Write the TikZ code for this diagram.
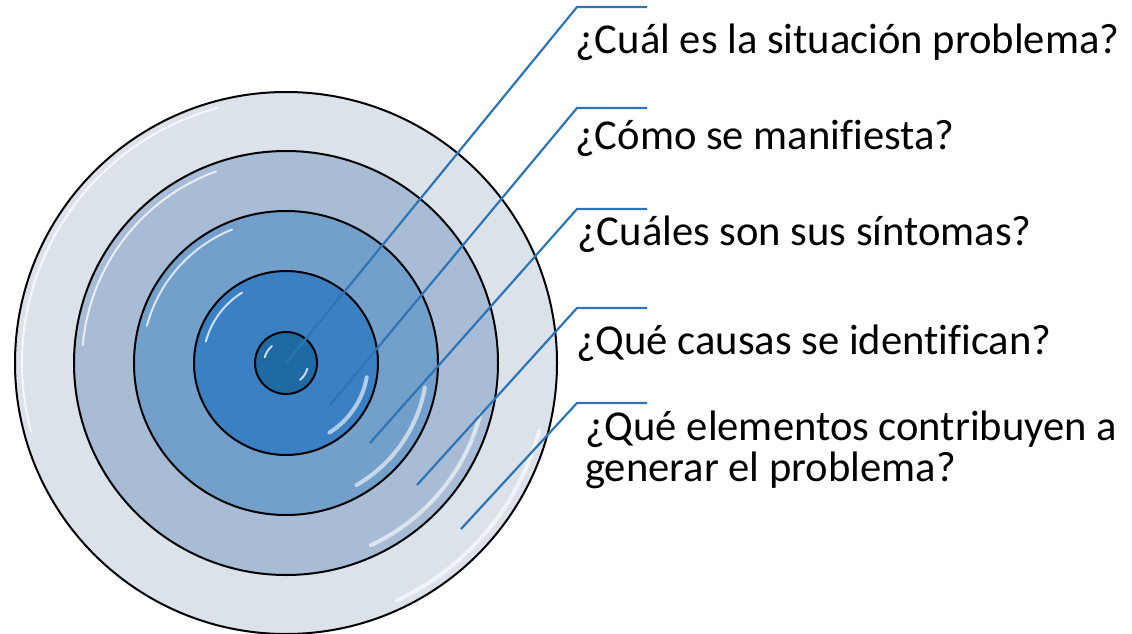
\documentclass[tikz,border=0pt]{standalone}
\usepackage{fontspec}
\setmainfont{Carlito}[Ligatures=NoCommon]
\usepackage{tikz}
\definecolor{ringa}{HTML}{DCE2EA}
\definecolor{ringb}{HTML}{A8BCD6}
\definecolor{ringc}{HTML}{739FCB}
\definecolor{ringd}{HTML}{3A80C2}
\definecolor{core}{HTML}{1F6AA3}
\definecolor{lead}{HTML}{2E75B6}
\tikzstyle{none}=[inner sep=0pt]
\tikzstyle{disc}=[circle,draw=black,line width=2,inner sep=0pt]
\tikzstyle{gloss}=[draw=white,line width=4,line cap=round,opacity=.6]
\tikzstyle{thingloss}=[draw=white,line width=2,line cap=round,opacity=.75]
\tikzstyle{leader}=[-,draw=lead,line width=2.2]
\tikzstyle{question}=[anchor=base west,inner sep=0pt,align=left,font=\fontsize{42.6}{41}\selectfont]
\pgfdeclarelayer{disclayer}
\pgfdeclarelayer{edgelayer}
\pgfsetlayers{disclayer,edgelayer,main}

\begin{document}
\begin{tikzpicture}[x=1pt,y=-1pt]
	\useasboundingbox (0,0) rectangle (1132,634);
	\begin{pgfonlayer}{disclayer}
		\node [style=disc, fill=ringa, minimum size=542pt] (d5) at (286, 363) {};
		\node [style=disc, fill=ringb, minimum size=424pt] (d4) at (286, 363) {};
		\node [style=disc, fill=ringc, minimum size=304pt] (d3) at (286, 363) {};
		\node [style=disc, fill=ringd, minimum size=184pt] (d2) at (286, 363) {};
		\node [style=disc, fill=core, minimum size=62pt] (d1) at (286, 363) {};

		% highlights (y axis points down, so angles are mirrored)
		\draw [style=thingloss] (d5.center) ++(-105:264) arc[start angle=-105, end angle=-195, radius=264];
		\draw [style=gloss] (d5.center) ++(15:262) arc[start angle=15, end angle=65, radius=262];
		\draw [style=thingloss] (d4.center) ++(-110:204) arc[start angle=-110, end angle=-175, radius=204];
		\draw [style=gloss] (d4.center) ++(15:201) arc[start angle=15, end angle=65, radius=201];
		\draw [style=thingloss] (d3.center) ++(-112:144) arc[start angle=-112, end angle=-165, radius=144];
		\draw [style=gloss] (d3.center) ++(10:141) arc[start angle=10, end angle=60, radius=141];
		\draw [style=thingloss] (d2.center) ++(-122:83) arc[start angle=-122, end angle=-165, radius=83];
		\draw [style=gloss] (d2.center) ++(10:82) arc[start angle=10, end angle=58, radius=82];
		\draw [style=thingloss] (d1.center) ++(-130:22) arc[start angle=-130, end angle=-165, radius=22];
		\draw [style=thingloss] (d1.center) ++(15:22) arc[start angle=15, end angle=50, radius=22];
	\end{pgfonlayer}

	\node [style=none] (p1) at (287, 362) {};
	\node [style=none] (k1) at (577, 7) {};
	\node [style=none] (e1) at (647, 7) {};
	\node [style=none] (p2) at (330, 405) {};
	\node [style=none] (k2) at (577, 108) {};
	\node [style=none] (e2) at (647, 108) {};
	\node [style=none] (p3) at (370, 443) {};
	\node [style=none] (k3) at (577, 209) {};
	\node [style=none] (e3) at (647, 209) {};
	\node [style=none] (p4) at (417, 485) {};
	\node [style=none] (k4) at (577, 308) {};
	\node [style=none] (e4) at (647, 308) {};
	\node [style=none] (p5) at (461, 529) {};
	\node [style=none] (k5) at (577, 403) {};
	\node [style=none] (e5) at (647, 403) {};

	\node [style=question] (q1) at (575, 53) {¿Cuál es la situación problema?};
	\node [style=question] (q2) at (575, 149) {¿Cómo se manifiesta?};
	\node [style=question] (q3) at (577, 245) {¿Cuáles son sus síntomas?};
	\node [style=question] (q4) at (576, 354) {¿Qué causas se identifican?};
	\node [style=question] (q5) at (585, 481) {¿Qué elementos contribuyen a\\generar el problema?};

	\begin{pgfonlayer}{edgelayer}
		\draw [style=leader] (p1.center) to (k1.center) to (e1.center);
		\draw [style=leader] (p2.center) to (k2.center) to (e2.center);
		\draw [style=leader] (p3.center) to (k3.center) to (e3.center);
		\draw [style=leader] (p4.center) to (k4.center) to (e4.center);
		\draw [style=leader] (p5.center) to (k5.center) to (e5.center);
	\end{pgfonlayer}
\end{tikzpicture}
\end{document}
